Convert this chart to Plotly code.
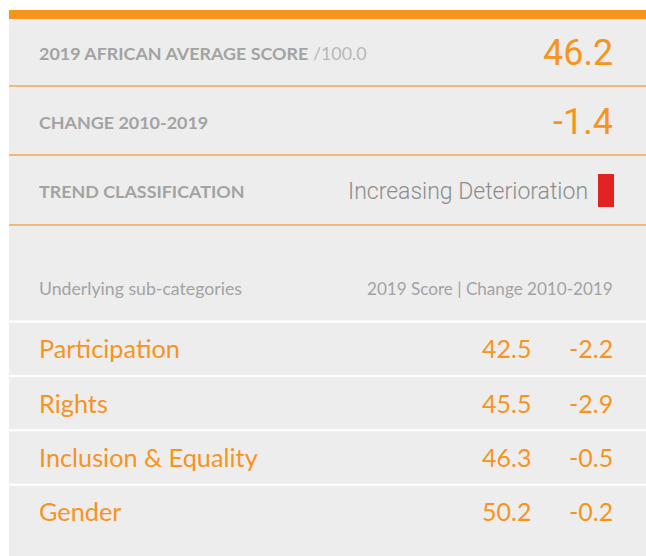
import plotly.graph_objects as go

# summary block
summary_labels = ["<b>2019 AFRICAN AVERAGE SCORE</b><span style='color:#b8b8b8'> /100.0</span>",
                  "<b>CHANGE 2010-2019</b>",
                  "<b>TREND CLASSIFICATION</b>"]
summary_values = ["46.2", "-1.4", "Increasing Deterioration"]

# sub-category table
table_header   = ["Underlying sub-categories", "2019 Score | Change 2010-2019"]
sub_categories = ["Participation", "Rights", "Inclusion & Equality", "Gender"]
score_2019     = [42.5, 45.5, 46.3, 50.2]
change_10_19   = [-2.2, -2.9, -0.5, -0.2]

ORANGE = "#f7941d"
GREY   = "#a3a3a3"
PANEL  = "#ededed"
RED    = "#e32322"
FONT   = "Lato"

W, H = 646, 556
fig = go.Figure()

shapes = [
    dict(type="rect", x0=9, x1=W, y0=10, y1=H, fillcolor=PANEL, line_width=0, layer="below"),
    dict(type="rect", x0=9, x1=W, y0=10, y1=19, fillcolor=ORANGE, line_width=0),
]
annotations = []

# summary rows
summary_y   = [52.5, 122, 191]
summary_sep = [86, 155, 225]
for i, (lab, val) in enumerate(zip(summary_labels, summary_values)):
    y = summary_y[i]
    annotations.append(dict(x=37, y=y, text=lab, xanchor="left", yanchor="middle", showarrow=False,
                            font=dict(family=FONT, size=17.9, color=GREY)))
    if i < 2:
        annotations.append(dict(x=615, y=y, text=val, xanchor="right", yanchor="middle", showarrow=False,
                                font=dict(family="Roboto", size=36, color=ORANGE)))
    else:
        annotations.append(dict(x=590, y=y, text=val, xanchor="right", yanchor="middle", showarrow=False,
                                font=dict(family="Roboto", size=23, color="#8c8c8c", weight=300)))
        shapes.append(dict(type="rect", x0=598, x1=614, y0=174, y1=207, fillcolor=RED, line_width=0))
    shapes.append(dict(type="line", x0=9, x1=W, y0=summary_sep[i], y1=summary_sep[i],
                       line=dict(color="#f4a452", width=1.5)))

# table header
annotations.append(dict(x=37, y=288, text=table_header[0], xanchor="left", yanchor="middle",
                        showarrow=False, font=dict(family=FONT, size=17.7, color=GREY)))
annotations.append(dict(x=615, y=288, text=table_header[1], xanchor="right", yanchor="middle",
                        showarrow=False, font=dict(family=FONT, size=17.1, color=GREY)))

# table rows
row_top, row_h = 321.5, 54.4
for i, name in enumerate(sub_categories):
    y0 = row_top + i * row_h
    yc = y0 + row_h / 2 - 0.5
    shapes.append(dict(type="line", x0=9, x1=W, y0=y0, y1=y0, line=dict(color="white", width=2)))
    annotations.append(dict(x=37, y=yc, text=name, xanchor="left", yanchor="middle", showarrow=False,
                            font=dict(family=FONT, size=25.3, color=ORANGE)))
    annotations.append(dict(x=533, y=yc, text=f"{score_2019[i]:.1f}", xanchor="right", yanchor="middle",
                            showarrow=False, font=dict(family=FONT, size=25, color=ORANGE)))
    annotations.append(dict(x=615, y=yc, text=f"{change_10_19[i]:.1f}", xanchor="right", yanchor="middle",
                            showarrow=False, font=dict(family=FONT, size=25, color=ORANGE)))

fig.update_layout(
    width=W, height=H,
    margin=dict(l=0, r=0, t=0, b=0),
    paper_bgcolor="white", plot_bgcolor="white",
    xaxis=dict(range=[0, W], visible=False, fixedrange=True),
    yaxis=dict(range=[H, 0], visible=False, fixedrange=True),
    shapes=shapes, annotations=annotations,
    showlegend=False,
)

# drop the default 8px page margin so the figure fills the window exactly
fig.write_html("out.html", config={"displayModeBar": False},
               post_script="document.body.style.margin='0';")
